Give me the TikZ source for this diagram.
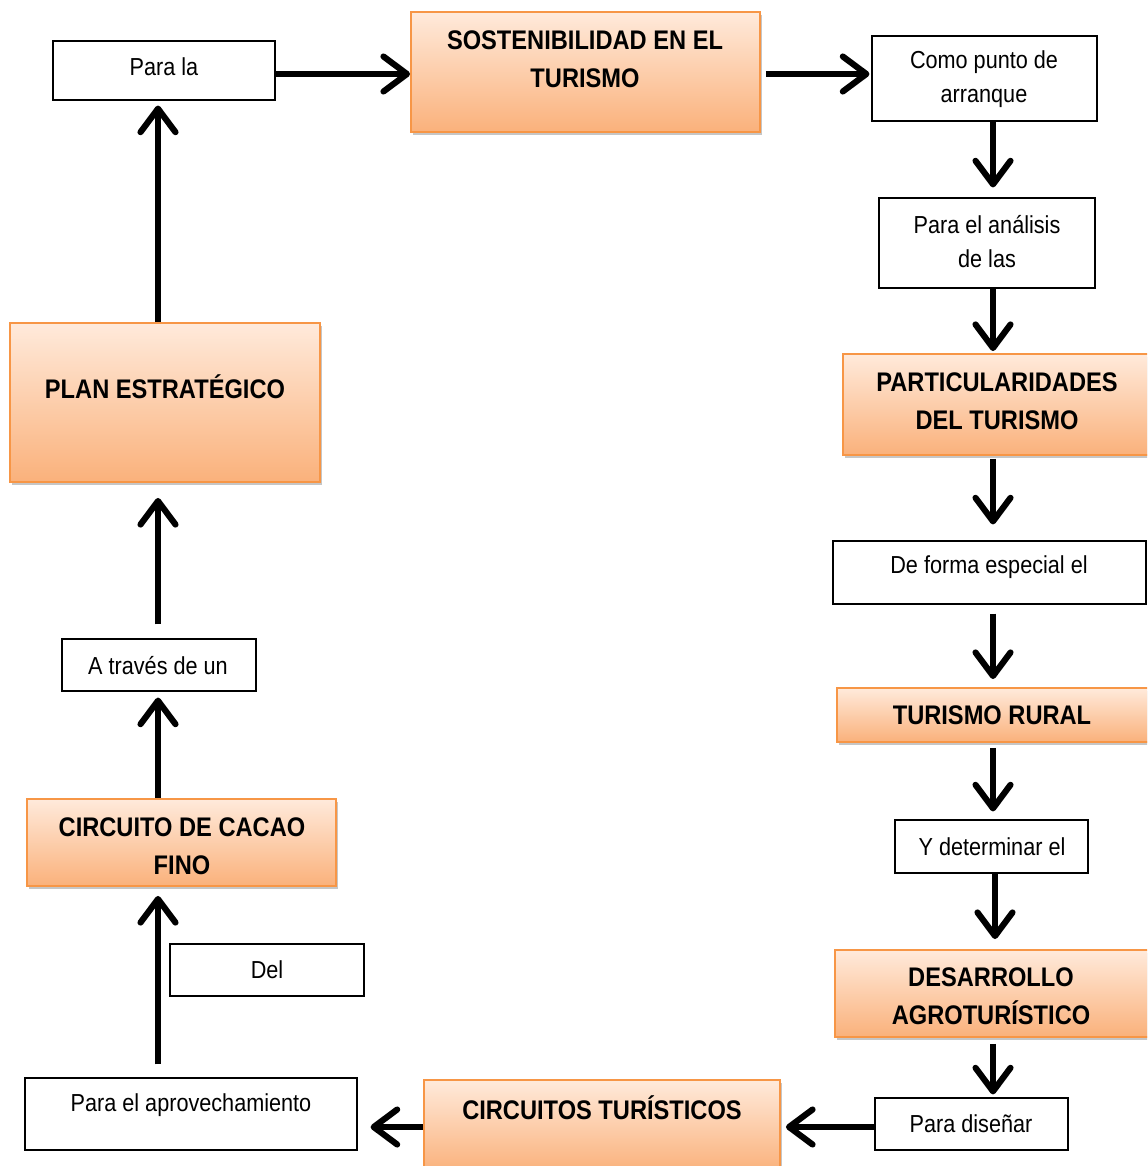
\documentclass[tikz,border=0pt]{standalone}
\usepackage{fontspec}
\setmainfont{Liberation Sans}[FakeStretch=0.88]
\usetikzlibrary{arrows.meta,fit,shadows}
\definecolor{obord}{HTML}{F79646}
\definecolor{otop}{HTML}{FFEADB}
\definecolor{obot}{HTML}{FAB17B}
\begin{document}
\begin{tikzpicture}[x=0.02cm,y=-0.02cm,
 wbox/.style={draw=black, line width=0.7pt, fill=white, inner sep=0pt},
 obox/.style={draw=obord, line width=1.1pt, top color=otop, bottom color=obot, inner sep=0pt,
   drop shadow={shadow xshift=1.1pt, shadow yshift=-1.6pt, opacity=0.45}},
 rtxt/.style={font=\fontsize{14}{19.3}\selectfont, align=center, inner sep=0pt},
 btxt/.style={font=\fontsize{15.3}{21.5}\selectfont\bfseries, align=center, inner sep=0pt},
 arr/.style={line width=3.5pt, -{Straight Barb[length=0.47cm,width=0.7cm,line cap=round,line join=round]}}
]
\useasboundingbox (0,0) rectangle (1147,1166);
\clip (0,0) rectangle (1147,1166);

% boxes
\node[wbox, fit={(53,41)(275,100)}] (parala) {};
\node[obox, fit={(411,12)(760,132)}] (sost) {};
\node[wbox, fit={(872,36)(1097,121)}] (como) {};
\node[wbox, fit={(879,198)(1095,288)}] (anal) {};
\node[obox, fit={(843,354)(1150,455)}] (partic) {};
\node[wbox, fit={(833,541)(1146,604)}] (deforma) {};
\node[obox, fit={(837,688)(1150,742)}] (rural) {};
\node[wbox, fit={(895,820)(1088,873)}] (ydet) {};
\node[obox, fit={(835,950)(1150,1037)}] (desa) {};
\node[wbox, fit={(875,1098)(1068,1150)}] (disenar) {};
\node[obox, fit={(424,1080)(780,1172)}] (circ) {};
\node[wbox, fit={(25,1078)(357,1150)}] (aprov) {};
\node[wbox, fit={(170,944)(364,996)}] (del) {};
\node[obox, fit={(27,799)(336,886)}] (cacao) {};
\node[wbox, fit={(62,639)(256,691)}] (atraves) {};
\node[obox, fit={(10,323)(320,482)}] (plan) {};

% texts
\node[rtxt] (t1) at (164,67) {Para la};
\node[btxt] (t2) at (585,59) {SOSTENIBILIDAD EN EL\\TURISMO};
\node[rtxt] (t3) at (984,79) {Como punto de\\arranque};
\node[rtxt] (t4) at (987,242) {Para el análisis\\de las};
\node[btxt] (t5) at (997,401) {PARTICULARIDADES\\DEL TURISMO};
\node[rtxt] (t6) at (989,567) {De forma especial el};
\node[btxt] (t7) at (992,715) {TURISMO RURAL};
\node[rtxt] (t8) at (992,847) {Y determinar el};
\node[btxt] (t9) at (991,996) {DESARROLLO\\AGROTURÍSTICO};
\node[rtxt] (t10) at (971,1124) {Para diseñar};
\node[btxt] (t11) at (602,1108) {CIRCUITOS TURÍSTICOS};
\node[rtxt] (t12) at (191,1105) {Para el aprovechamiento};
\node[rtxt] (t13) at (267,970) {Del};
\node[btxt] (t14) at (182,846) {CIRCUITO DE CACAO\\FINO};
\node[rtxt] (t15) at (158,666) {A través de un};
\node[btxt] (t16) at (165,387) {PLAN ESTRATÉGICO};

% arrows
\draw[arr] (parala.east |- 0,74) -- (sost.west |- 0,74);
\draw[arr, shorten <=0.1cm, shorten >=0.04cm] (sost.east |- 0,74) -- (como.west |- 0,74);
\draw[arr, shorten >=0.2cm] (como.south -| 993,0) -- (anal.north -| 993,0);
\draw[arr, shorten >=0.04cm] (anal.south -| 993,0) -- (partic.north -| 993,0);
\draw[arr, shorten <=0.06cm, shorten >=0.32cm] (partic.south -| 993,0) -- (deforma.north -| 993,0);
\draw[arr, shorten <=0.18cm, shorten >=0.16cm] (deforma.south -| 993,0) -- (rural.north -| 993,0);
\draw[arr, shorten <=0.1cm, shorten >=0.16cm] (rural.south -| 993,0) -- (ydet.north -| 993,0);
\draw[arr, shorten >=0.2cm] (ydet.south -| 995,0) -- (desa.north -| 995,0);
\draw[arr, shorten <=0.12cm, shorten >=0.06cm] (desa.south -| 993,0) -- (disenar.north -| 993,0);
\draw[arr, shorten >=0.1cm] (disenar.west |- 0,1127) -- (circ.east |- 0,1127);
\draw[arr, shorten >=0.26cm] (circ.west |- 0,1127) -- (aprov.east |- 0,1127);
\draw[arr, shorten <=0.26cm, shorten >=0.18cm] (aprov.north -| 158,0) -- (cacao.south -| 158,0);
\draw[arr, shorten >=0.12cm] (cacao.north -| 158,0) -- (atraves.south -| 158,0);
\draw[arr, shorten <=0.28cm, shorten >=0.3cm] (atraves.north -| 158,0) -- (plan.south -| 158,0);
\draw[arr, shorten >=0.1cm] (plan.north -| 158,0) -- (parala.south -| 158,0);
\end{tikzpicture}
\end{document}
